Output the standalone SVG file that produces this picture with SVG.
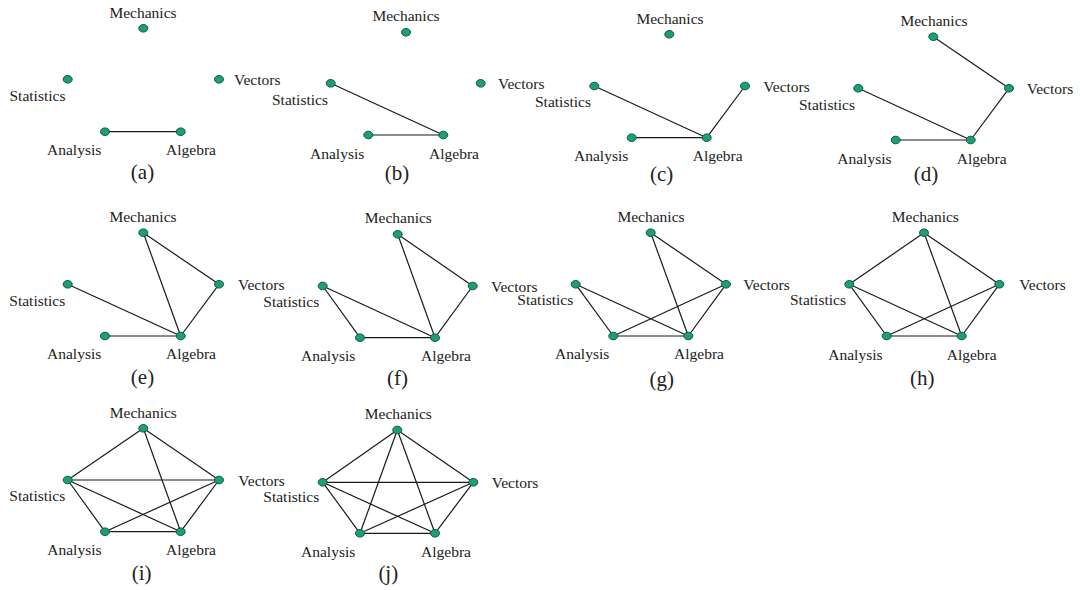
<svg xmlns="http://www.w3.org/2000/svg" width="1080" height="590" viewBox="0 0 1080 590">
<style>
.e line{stroke:#1a1a1a;stroke-width:1.2}
.n ellipse{fill:#1e9e74;stroke:#0b5a43;stroke-width:1}
.n text{font-family:"Liberation Serif","Times New Roman",serif;font-size:15.5px;fill:#222}
.cap{font-family:"Liberation Serif","Times New Roman",serif;font-size:21px;fill:#222;text-anchor:middle}
.m{text-anchor:middle}
</style>
<rect width="1080" height="590" fill="#ffffff"/>

<!-- (a) -->
<g id="panel-a">
<g id="a-edges" class="e">
<line x1="105" y1="131.7" x2="180.7" y2="131.7"/>
</g>
<g id="a-mechanics" class="n"><ellipse cx="143.3" cy="28.3" rx="4.5" ry="3.8"/><text class="m" x="143" y="17.5">Mechanics</text></g>
<g id="a-statistics" class="n"><ellipse cx="67.7" cy="79.3" rx="4.5" ry="3.8"/><text x="9.5" y="100.7">Statistics</text></g>
<g id="a-vectors" class="n"><ellipse cx="219" cy="79.3" rx="4.5" ry="3.8"/><text x="234" y="85">Vectors</text></g>
<g id="a-analysis" class="n"><ellipse cx="105" cy="131.7" rx="4.5" ry="3.8"/><text x="47" y="155">Analysis</text></g>
<g id="a-algebra" class="n"><ellipse cx="180.7" cy="131.7" rx="4.5" ry="3.8"/><text x="166" y="155">Algebra</text></g>
<text class="cap" x="142.5" y="179">(a)</text>
</g>

<!-- (b) -->
<g id="panel-b">
<g id="b-edges" class="e">
<line x1="368.3" y1="135" x2="443.3" y2="135"/>
<line x1="330.7" y1="83.3" x2="443.3" y2="135"/>
</g>
<g id="b-mechanics" class="n"><ellipse cx="406" cy="32.3" rx="4.5" ry="3.8"/><text class="m" x="406" y="21">Mechanics</text></g>
<g id="b-statistics" class="n"><ellipse cx="330.7" cy="83.3" rx="4.5" ry="3.8"/><text x="272" y="104.5">Statistics</text></g>
<g id="b-vectors" class="n"><ellipse cx="480.7" cy="83.3" rx="4.5" ry="3.8"/><text x="498" y="88.7">Vectors</text></g>
<g id="b-analysis" class="n"><ellipse cx="368.3" cy="135" rx="4.5" ry="3.8"/><text x="310" y="158.5">Analysis</text></g>
<g id="b-algebra" class="n"><ellipse cx="443.3" cy="135" rx="4.5" ry="3.8"/><text x="429" y="158.5">Algebra</text></g>
<text class="cap" x="397" y="180">(b)</text>
</g>

<!-- (c) -->
<g id="panel-c">
<g id="c-edges" class="e">
<line x1="631.7" y1="137.7" x2="706.7" y2="137.7"/>
<line x1="594.3" y1="86" x2="706.7" y2="137.7"/>
<line x1="745" y1="86" x2="706.7" y2="137.7"/>
</g>
<g id="c-mechanics" class="n"><ellipse cx="669.3" cy="34.3" rx="4.5" ry="3.8"/><text class="m" x="670" y="23.5">Mechanics</text></g>
<g id="c-statistics" class="n"><ellipse cx="594.3" cy="86" rx="4.5" ry="3.8"/><text x="535" y="107.3">Statistics</text></g>
<g id="c-vectors" class="n"><ellipse cx="745" cy="86" rx="4.5" ry="3.8"/><text x="763.3" y="91.5">Vectors</text></g>
<g id="c-analysis" class="n"><ellipse cx="631.7" cy="137.7" rx="4.5" ry="3.8"/><text x="574" y="161">Analysis</text></g>
<g id="c-algebra" class="n"><ellipse cx="706.7" cy="137.7" rx="4.5" ry="3.8"/><text x="692.7" y="161">Algebra</text></g>
<text class="cap" x="661.7" y="181">(c)</text>
</g>

<!-- (d) -->
<g id="panel-d">
<g id="d-edges" class="e">
<line x1="895.7" y1="140" x2="970.7" y2="140"/>
<line x1="858.3" y1="88.3" x2="970.7" y2="140"/>
<line x1="1009" y1="88.3" x2="970.7" y2="140"/>
<line x1="933.3" y1="36.7" x2="1009" y2="88.3"/>
</g>
<g id="d-mechanics" class="n"><ellipse cx="933.3" cy="36.7" rx="4.5" ry="3.8"/><text class="m" x="934" y="26">Mechanics</text></g>
<g id="d-statistics" class="n"><ellipse cx="858.3" cy="88.3" rx="4.5" ry="3.8"/><text x="799" y="109.5">Statistics</text></g>
<g id="d-vectors" class="n"><ellipse cx="1009" cy="88.3" rx="4.5" ry="3.8"/><text x="1026.7" y="94">Vectors</text></g>
<g id="d-analysis" class="n"><ellipse cx="895.7" cy="140" rx="4.5" ry="3.8"/><text x="837.3" y="163.5">Analysis</text></g>
<g id="d-algebra" class="n"><ellipse cx="970.7" cy="140" rx="4.5" ry="3.8"/><text x="956.7" y="163.5">Algebra</text></g>
<text class="cap" x="926" y="181">(d)</text>
</g>

<!-- (e) -->
<g id="panel-e">
<g id="e-edges" class="e">
<line x1="105" y1="336" x2="180.7" y2="336"/>
<line x1="67.7" y1="284.3" x2="180.7" y2="336"/>
<line x1="219" y1="284.3" x2="180.7" y2="336"/>
<line x1="143.3" y1="232.7" x2="219" y2="284.3"/>
<line x1="143.3" y1="232.7" x2="180.7" y2="336"/>
</g>
<g id="e-mechanics" class="n"><ellipse cx="143.3" cy="232.7" rx="4.5" ry="3.8"/><text class="m" x="143" y="221.7">Mechanics</text></g>
<g id="e-statistics" class="n"><ellipse cx="67.7" cy="284.3" rx="4.5" ry="3.8"/><text x="9.3" y="305.5">Statistics</text></g>
<g id="e-vectors" class="n"><ellipse cx="219" cy="284.3" rx="4.5" ry="3.8"/><text x="238" y="290">Vectors</text></g>
<g id="e-analysis" class="n"><ellipse cx="105" cy="336" rx="4.5" ry="3.8"/><text x="47" y="359">Analysis</text></g>
<g id="e-algebra" class="n"><ellipse cx="180.7" cy="336" rx="4.5" ry="3.8"/><text x="166" y="359">Algebra</text></g>
<text class="cap" x="142.5" y="384">(e)</text>
</g>

<!-- (f) -->
<g id="panel-f">
<g id="f-edges" class="e">
<line x1="360" y1="337.7" x2="435" y2="337.7"/>
<line x1="322.7" y1="286" x2="435" y2="337.7"/>
<line x1="472.7" y1="286" x2="435" y2="337.7"/>
<line x1="397.7" y1="234.3" x2="472.7" y2="286"/>
<line x1="397.7" y1="234.3" x2="435" y2="337.7"/>
<line x1="322.7" y1="286" x2="360" y2="337.7"/>
</g>
<g id="f-mechanics" class="n"><ellipse cx="397.7" cy="234.3" rx="4.5" ry="3.8"/><text class="m" x="398.3" y="223.3">Mechanics</text></g>
<g id="f-statistics" class="n"><ellipse cx="322.7" cy="286" rx="4.5" ry="3.8"/><text x="263.3" y="306.7">Statistics</text></g>
<g id="f-vectors" class="n"><ellipse cx="472.7" cy="286" rx="4.5" ry="3.8"/><text x="491" y="291.7">Vectors</text></g>
<g id="f-analysis" class="n"><ellipse cx="360" cy="337.7" rx="4.5" ry="3.8"/><text x="301" y="360.7">Analysis</text></g>
<g id="f-algebra" class="n"><ellipse cx="435" cy="337.7" rx="4.5" ry="3.8"/><text x="421" y="360.7">Algebra</text></g>
<text class="cap" x="397.5" y="384.5">(f)</text>
</g>

<!-- (g) -->
<g id="panel-g">
<g id="g-edges" class="e">
<line x1="613.3" y1="336" x2="688.3" y2="336"/>
<line x1="575.7" y1="284.3" x2="688.3" y2="336"/>
<line x1="726" y1="284.3" x2="688.3" y2="336"/>
<line x1="650.7" y1="232.7" x2="726" y2="284.3"/>
<line x1="650.7" y1="232.7" x2="688.3" y2="336"/>
<line x1="575.7" y1="284.3" x2="613.3" y2="336"/>
<line x1="613.3" y1="336" x2="726" y2="284.3"/>
</g>
<g id="g-mechanics" class="n"><ellipse cx="650.7" cy="232.7" rx="4.5" ry="3.8"/><text class="m" x="651" y="221.7">Mechanics</text></g>
<g id="g-statistics" class="n"><ellipse cx="575.7" cy="284.3" rx="4.5" ry="3.8"/><text x="517.3" y="305">Statistics</text></g>
<g id="g-vectors" class="n"><ellipse cx="726" cy="284.3" rx="4.5" ry="3.8"/><text x="743.3" y="290">Vectors</text></g>
<g id="g-analysis" class="n"><ellipse cx="613.3" cy="336" rx="4.5" ry="3.8"/><text x="555" y="359.3">Analysis</text></g>
<g id="g-algebra" class="n"><ellipse cx="688.3" cy="336" rx="4.5" ry="3.8"/><text x="674" y="359.3">Algebra</text></g>
<text class="cap" x="661.7" y="386">(g)</text>
</g>

<!-- (h) -->
<g id="panel-h">
<g id="h-edges" class="e">
<line x1="886.7" y1="336" x2="961.7" y2="336"/>
<line x1="849.3" y1="284.3" x2="961.7" y2="336"/>
<line x1="999.3" y1="284.3" x2="961.7" y2="336"/>
<line x1="924" y1="232.7" x2="999.3" y2="284.3"/>
<line x1="924" y1="232.7" x2="961.7" y2="336"/>
<line x1="849.3" y1="284.3" x2="886.7" y2="336"/>
<line x1="886.7" y1="336" x2="999.3" y2="284.3"/>
<line x1="924" y1="232.7" x2="849.3" y2="284.3"/>
</g>
<g id="h-mechanics" class="n"><ellipse cx="924" cy="232.7" rx="4.5" ry="3.8"/><text class="m" x="925.3" y="221.7">Mechanics</text></g>
<g id="h-statistics" class="n"><ellipse cx="849.3" cy="284.3" rx="4.5" ry="3.8"/><text x="790" y="305">Statistics</text></g>
<g id="h-vectors" class="n"><ellipse cx="999.3" cy="284.3" rx="4.5" ry="3.8"/><text x="1019.3" y="290">Vectors</text></g>
<g id="h-analysis" class="n"><ellipse cx="886.7" cy="336" rx="4.5" ry="3.8"/><text x="828.3" y="360">Analysis</text></g>
<g id="h-algebra" class="n"><ellipse cx="961.7" cy="336" rx="4.5" ry="3.8"/><text x="946.7" y="360">Algebra</text></g>
<text class="cap" x="922.3" y="384.5">(h)</text>
</g>

<!-- (i) -->
<g id="panel-i">
<g id="i-edges" class="e">
<line x1="105" y1="531.7" x2="180.7" y2="531.7"/>
<line x1="67.7" y1="480" x2="180.7" y2="531.7"/>
<line x1="219" y1="480" x2="180.7" y2="531.7"/>
<line x1="143.3" y1="428.3" x2="219" y2="480"/>
<line x1="143.3" y1="428.3" x2="180.7" y2="531.7"/>
<line x1="67.7" y1="480" x2="105" y2="531.7"/>
<line x1="105" y1="531.7" x2="219" y2="480"/>
<line x1="143.3" y1="428.3" x2="67.7" y2="480"/>
<line x1="67.7" y1="480" x2="219" y2="480"/>
</g>
<g id="i-mechanics" class="n"><ellipse cx="143.3" cy="428.3" rx="4.5" ry="3.8"/><text class="m" x="143.3" y="417.7">Mechanics</text></g>
<g id="i-statistics" class="n"><ellipse cx="67.7" cy="480" rx="4.5" ry="3.8"/><text x="9.3" y="501">Statistics</text></g>
<g id="i-vectors" class="n"><ellipse cx="219" cy="480" rx="4.5" ry="3.8"/><text x="238.3" y="485.7">Vectors</text></g>
<g id="i-analysis" class="n"><ellipse cx="105" cy="531.7" rx="4.5" ry="3.8"/><text x="47.3" y="555">Analysis</text></g>
<g id="i-algebra" class="n"><ellipse cx="180.7" cy="531.7" rx="4.5" ry="3.8"/><text x="166" y="555">Algebra</text></g>
<text class="cap" x="141.7" y="579.5">(i)</text>
</g>

<!-- (j) -->
<g id="panel-j">
<g id="j-edges" class="e">
<line x1="360" y1="533.3" x2="435" y2="533.3"/>
<line x1="322.7" y1="482.3" x2="435" y2="533.3"/>
<line x1="473.3" y1="482.3" x2="435" y2="533.3"/>
<line x1="397.3" y1="430" x2="473.3" y2="482.3"/>
<line x1="397.3" y1="430" x2="435" y2="533.3"/>
<line x1="322.7" y1="482.3" x2="360" y2="533.3"/>
<line x1="360" y1="533.3" x2="473.3" y2="482.3"/>
<line x1="397.3" y1="430" x2="322.7" y2="482.3"/>
<line x1="322.7" y1="482.3" x2="473.3" y2="482.3"/>
<line x1="397.3" y1="430" x2="360" y2="533.3"/>
</g>
<g id="j-mechanics" class="n"><ellipse cx="397.3" cy="430" rx="4.5" ry="3.8"/><text class="m" x="398.3" y="419">Mechanics</text></g>
<g id="j-statistics" class="n"><ellipse cx="322.7" cy="482.3" rx="4.5" ry="3.8"/><text x="263.3" y="502.3">Statistics</text></g>
<g id="j-vectors" class="n"><ellipse cx="473.3" cy="482.3" rx="4.5" ry="3.8"/><text x="491.7" y="487.7">Vectors</text></g>
<g id="j-analysis" class="n"><ellipse cx="360" cy="533.3" rx="4.5" ry="3.8"/><text x="301" y="556.7">Analysis</text></g>
<g id="j-algebra" class="n"><ellipse cx="435" cy="533.3" rx="4.5" ry="3.8"/><text x="421" y="556.7">Algebra</text></g>
<text class="cap" x="388.3" y="579.5">(j)</text>
</g>
</svg>
